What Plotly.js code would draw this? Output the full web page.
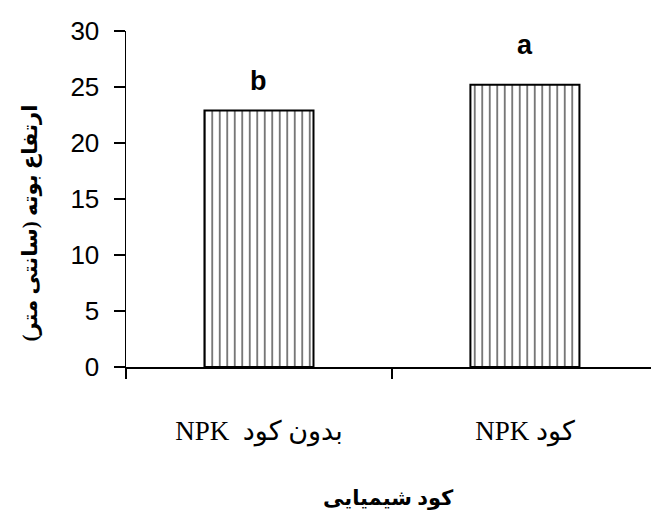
<!DOCTYPE html>
<html>
<head>
<meta charset="utf-8">
<script src="https://cdn.plot.ly/plotly-3.0.1.min.js"></script>
<style>html,body{margin:0;padding:0;background:#fff;}</style>
</head>
<body>
<div id="chart" style="width:651px;height:517px;"></div>
<script>
// Data
const categories = ["\u202Bبدون کود  NPK\u202C", "\u202Bکود NPK\u202C"];
const plantHeight = [22.9, 25.2];
const groupLetters = ["b", "a"];
const yTickValues = [0, 5, 10, 15, 20, 25, 30];
const yTitle = "\u202Bارتفاع بوته (سانتی متر)\u202C";
const xTitle = "کود شیمیایی";

// Styles
const letterShift = [13, 23];

const trace = {
  type: "bar",
  x: categories,
  y: plantHeight,
  width: 0.41,
  marker: {
    color: "white",
    line: {color: "black", width: 2},
    pattern: {shape: "|", fgcolor: "#555", bgcolor: "white", size: 7.5, solidity: 0.2}
  },
  hoverinfo: "none"
};

const annotations = groupLetters.map((t, i) => ({
  x: categories[i], y: plantHeight[i], xref: "x", yref: "y",
  text: t, showarrow: false, yanchor: "bottom", yshift: letterShift[i],
  font: {family: "Liberation Sans, Arial", size: 27, color: "black", weight: "bold"}
}));
annotations.push({
  xref: "paper", yref: "paper", x: -0.183, y: 0.43,
  text: yTitle, showarrow: false, textangle: -90,
  xanchor: "center", yanchor: "middle",
  font: {family: "Liberation Serif, DejaVu Sans", size: 21, color: "black", weight: "bold"}
});
annotations.push({
  xref: "paper", yref: "paper", x: 0.5, y: -0.39,
  text: xTitle, showarrow: false,
  xanchor: "center", yanchor: "middle",
  font: {family: "Liberation Serif, DejaVu Sans", size: 21, color: "black", weight: "bold"}
});

const layout = {
  width: 651, height: 517,
  margin: {l: 126, r: 0, t: 31, b: 150},
  paper_bgcolor: "white", plot_bgcolor: "white",
  showlegend: false,
  xaxis: {
    type: "category",
    range: [-0.5, 1.474],
    tickson: "boundaries",
    ticks: "outside", ticklen: 10, tickwidth: 1.5, tickcolor: "black",
    showline: true, linecolor: "black", linewidth: 1.5,
    showgrid: false, zeroline: false,
    ticklabelstandoff: 39,
    tickfont: {family: "Liberation Serif, DejaVu Sans", size: 27, color: "black"}
  },
  yaxis: {
    range: [0, 30],
    tickvals: yTickValues,
    ticks: "outside", ticklen: 11, tickwidth: 1.5, tickcolor: "black",
    showline: true, linecolor: "black", linewidth: 1.5,
    showgrid: false, zeroline: false,
    ticklabelstandoff: 9,
    tickfont: {family: "Liberation Sans, Arial", size: 26, color: "black"}
  },
  annotations: annotations
};

Plotly.newPlot("chart", [trace], layout, {staticPlot: true});
</script>
</body>
</html>
